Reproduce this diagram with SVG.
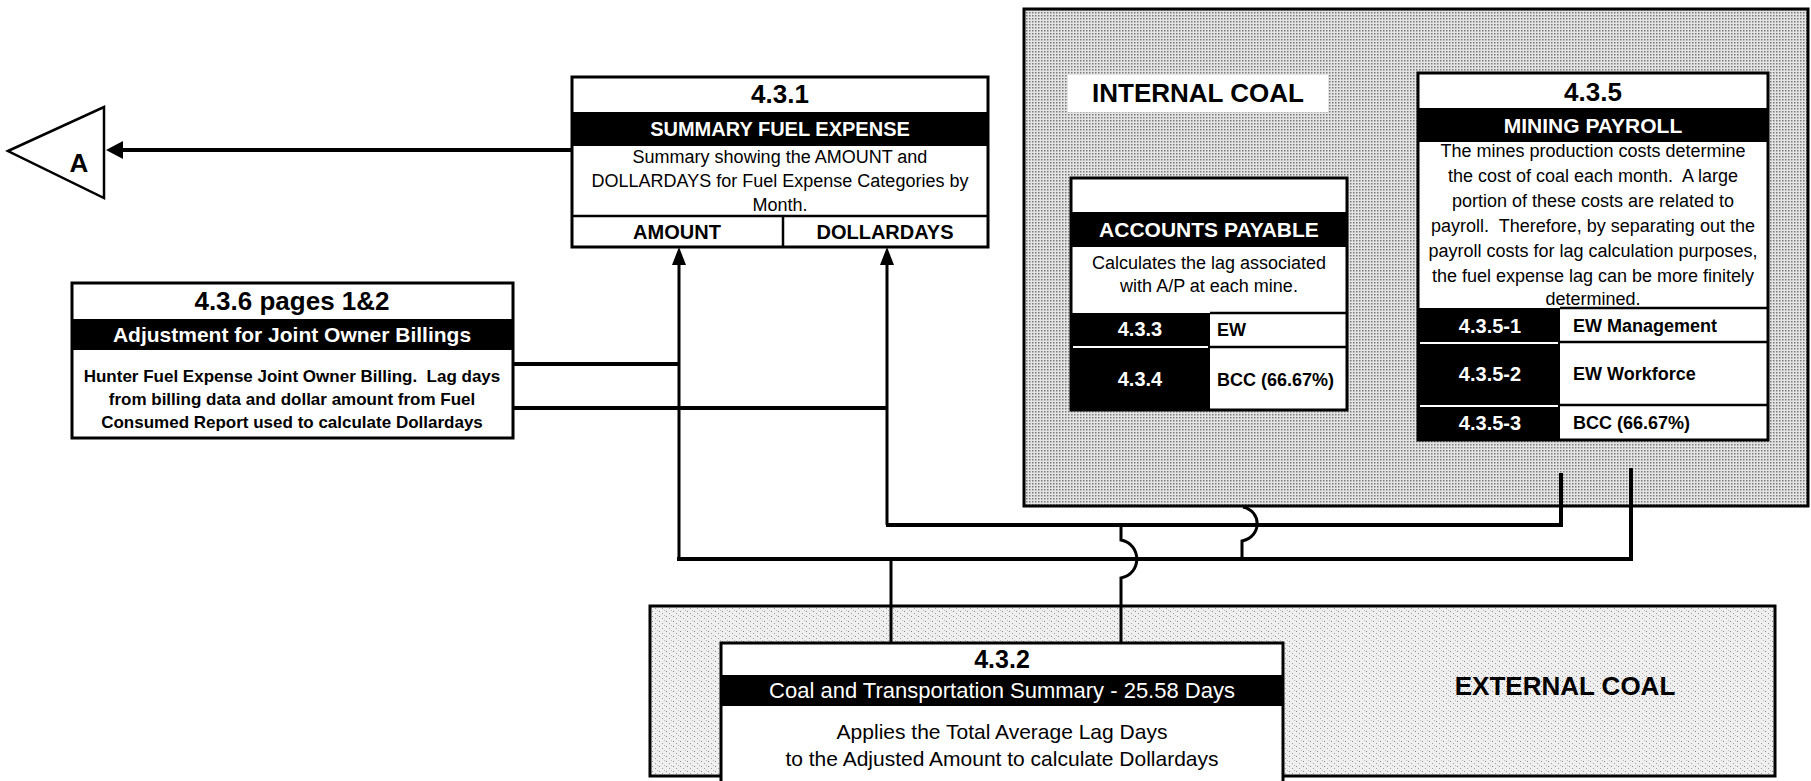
<svg xmlns="http://www.w3.org/2000/svg" width="1811" height="781" viewBox="0 0 1811 781">
<defs>
<pattern id="dots" width="3" height="3" patternUnits="userSpaceOnUse">
<rect width="3" height="3" fill="#e4e4e4"/>
<rect width="1.5" height="1.5" fill="#7a7a7a"/>
</pattern>
<pattern id="speck" width="7" height="5" patternUnits="userSpaceOnUse">
<rect width="7" height="5" fill="#efefef"/>
<rect x="1" y="1" width="1" height="1" fill="#888"/>
<rect x="4" y="3" width="1" height="1" fill="#a0a0a0"/>
<rect x="6" y="0" width="1" height="1" fill="#bbb"/>
</pattern>
</defs>
<style>
text{font-family:"Liberation Sans",Arial,sans-serif;fill:#000;white-space:pre}
.b{font-weight:bold}
.w{fill:#fff}
.c{text-anchor:middle}
.box{fill:#fff;stroke:#000;stroke-width:3}
.blk{fill:#000}
.ln{fill:none;stroke:#000;stroke-width:4}
.ln3{fill:none;stroke:#000;stroke-width:3}
.sep{stroke:#fff;stroke-width:2}
.rule{stroke:#000;stroke-width:2.5}
</style>

<g id="internal-coal">
<rect x="1024" y="9" width="784" height="497" fill="url(#dots)" stroke="#000" stroke-width="3"/>
<rect x="1068" y="75" width="260" height="37" fill="#fff"/>
<text class="b c" x="1198" y="102" font-size="26">INTERNAL COAL</text>
</g>

<g id="external-coal">
<rect x="650" y="606" width="1125" height="170" fill="url(#speck)" stroke="#000" stroke-width="3"/>
<text class="b c" x="1565" y="695" font-size="26">EXTERNAL COAL</text>
</g>

<g id="node-A">
<polygon points="8,151 104,107 104,198" fill="#fff" stroke="#000" stroke-width="2.5"/>
<text class="b c" x="79" y="172" font-size="26">A</text>
</g>

<g id="connectors">
<line class="ln" x1="572" y1="150" x2="120" y2="150"/>
<polygon points="106,150 123,141 123,159" fill="#000"/>
<polyline class="ln3" points="679,559 679,262"/>
<polygon points="679,247 672,265 686,265" fill="#000"/>
<polyline class="ln3" points="887,525 887,262"/>
<polygon points="887,247 880,265 894,265" fill="#000"/>
<line class="ln" x1="513" y1="364" x2="679" y2="364"/>
<line class="ln" x1="513" y1="408" x2="887" y2="408"/>
<polyline class="ln" points="886,525 1561,525 1561,473"/>
<polyline class="ln" points="677,559 1631,559 1631,468"/>
<line class="ln3" x1="891" y1="559" x2="891" y2="643"/>
<path class="ln3" d="M1121,525 L1121,540 C1142,544 1142,574 1121,578 L1121,643"/>
<path class="ln3" d="M1242,559 L1242,541 C1262,537 1262,511 1243,507"/>
</g>

<g id="n431">
<rect class="box" x="572" y="77" width="416" height="170"/>
<rect class="blk" x="572" y="112" width="416" height="34"/>
<line class="rule" x1="572" y1="216" x2="988" y2="216"/>
<line class="rule" x1="783" y1="216" x2="783" y2="247"/>
<text class="b c" x="780" y="103" font-size="26">4.3.1</text>
<text class="b c w" x="780" y="136" font-size="20">SUMMARY FUEL EXPENSE</text>
<text class="c" x="780" y="163" font-size="18">Summary showing the AMOUNT and</text>
<text class="c" x="780" y="187" font-size="18">DOLLARDAYS for Fuel Expense Categories by</text>
<text class="c" x="780" y="211" font-size="18">Month.</text>
<text class="b c" x="677" y="239" font-size="20">AMOUNT</text>
<text class="b c" x="885" y="239" font-size="20">DOLLARDAYS</text>
</g>

<g id="n436">
<rect class="box" x="72" y="283" width="441" height="155"/>
<rect class="blk" x="72" y="319" width="441" height="31"/>
<text class="b c" x="292" y="310" font-size="26">4.3.6 pages 1&amp;2</text>
<text class="b c w" x="292" y="342" font-size="21">Adjustment for Joint Owner Billings</text>
<text class="b c" x="292" y="382" font-size="17">Hunter Fuel Expense Joint Owner Billing.  Lag days</text>
<text class="b c" x="292" y="405" font-size="17">from billing data and dollar amount from Fuel</text>
<text class="b c" x="292" y="428" font-size="17">Consumed Report used to calculate Dollardays</text>
</g>

<g id="n432">
<rect class="box" x="721" y="643" width="562" height="145"/>
<rect class="blk" x="721" y="675" width="562" height="31"/>
<text class="b c" x="1002" y="668" font-size="25">4.3.2</text>
<text class="c w" x="1002" y="698" font-size="22">Coal and Transportation Summary - 25.58 Days</text>
<text class="c" x="1002" y="739" font-size="21">Applies the Total Average Lag Days</text>
<text class="c" x="1002" y="766" font-size="21">to the Adjusted Amount to calculate Dollardays</text>
</g>

<g id="n-accounts-payable">
<rect class="box" x="1071" y="178" width="276" height="232"/>
<rect class="blk" x="1071" y="212" width="276" height="35"/>
<rect class="blk" x="1071" y="313" width="139" height="97"/>
<line class="sep" x1="1073" y1="347" x2="1208" y2="347"/>
<line class="rule" x1="1210" y1="313" x2="1347" y2="313"/>
<line class="rule" x1="1210" y1="347" x2="1347" y2="347"/>
<text class="b c w" x="1209" y="237" font-size="21">ACCOUNTS PAYABLE</text>
<text class="c" x="1209" y="269" font-size="18">Calculates the lag associated</text>
<text class="c" x="1209" y="292" font-size="18">with A/P at each mine.</text>
<text class="b c w" x="1140" y="336" font-size="20">4.3.3</text>
<text class="b" x="1217" y="336" font-size="18">EW</text>
<text class="b c w" x="1140" y="386" font-size="20">4.3.4</text>
<text class="b" x="1217" y="386" font-size="18">BCC (66.67%)</text>
</g>

<g id="n435">
<rect class="box" x="1418" y="73" width="350" height="367"/>
<rect class="blk" x="1418" y="108" width="350" height="34"/>
<rect class="blk" x="1418" y="308" width="142" height="132"/>
<line class="sep" x1="1420" y1="343" x2="1558" y2="343"/>
<line class="sep" x1="1420" y1="406" x2="1558" y2="406"/>
<line class="rule" x1="1560" y1="308" x2="1768" y2="308"/>
<line class="rule" x1="1560" y1="342" x2="1768" y2="342"/>
<line class="rule" x1="1560" y1="405" x2="1768" y2="405"/>
<text class="b c" x="1593" y="101" font-size="26">4.3.5</text>
<text class="b c w" x="1593" y="133" font-size="21">MINING PAYROLL</text>
<text class="c" x="1593" y="157" font-size="18">The mines production costs determine</text>
<text class="c" x="1593" y="182" font-size="18">the cost of coal each month.  A large</text>
<text class="c" x="1593" y="207" font-size="18">portion of these costs are related to</text>
<text class="c" x="1593" y="232" font-size="18">payroll.  Therefore, by separating out the</text>
<text class="c" x="1593" y="257" font-size="18">payroll costs for lag calculation purposes,</text>
<text class="c" x="1593" y="282" font-size="18">the fuel expense lag can be more finitely</text>
<text class="c" x="1593" y="305" font-size="18">determined.</text>
<text class="b c w" x="1490" y="333" font-size="20">4.3.5-1</text>
<text class="b" x="1573" y="332" font-size="18">EW Management</text>
<text class="b c w" x="1490" y="381" font-size="20">4.3.5-2</text>
<text class="b" x="1573" y="380" font-size="18">EW Workforce</text>
<text class="b c w" x="1490" y="430" font-size="20">4.3.5-3</text>
<text class="b" x="1573" y="429" font-size="18">BCC (66.67%)</text>
</g>
</svg>
